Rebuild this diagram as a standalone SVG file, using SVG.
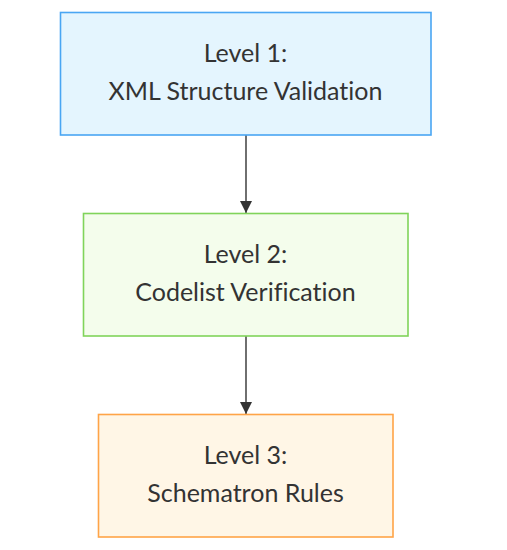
<svg xmlns="http://www.w3.org/2000/svg" width="507" height="550" viewBox="0 0 507 550">
<defs>
<marker id="arrow" viewBox="0 0 12 12" refX="12" refY="6" markerWidth="12" markerHeight="12" markerUnits="userSpaceOnUse" orient="auto">
<path d="M0,0 L12,6 L0,12 z" fill="#333333"/>
</marker>
<style>
.node rect{stroke-width:1.6}
.lbl{font-family:Lato,"Open Sans","Liberation Sans",sans-serif;font-size:25px;fill:#333333;text-anchor:middle;font-variant-ligatures:none;font-feature-settings:"liga" 0,"clig" 0}
.edge{stroke:#333333;stroke-width:1.4;fill:none}
</style>
</defs>
<rect width="507" height="550" fill="#ffffff"/>
<g id="connectors">
<path class="edge" d="M246,135 L246,213" marker-end="url(#arrow)"/>
<path class="edge" d="M246,336 L246,414" marker-end="url(#arrow)"/>
</g>
<g id="level1" class="node">
<rect x="60.5" y="12.5" width="370.5" height="122.5" fill="#e4f5fe" stroke="#49a6f3"/>
<text class="lbl" x="245.5" y="62">Level 1:</text>
<text class="lbl" x="245.5" y="100">XML Structure Validation</text>
</g>
<g id="level2" class="node">
<rect x="83.5" y="213.5" width="324.5" height="122.5" fill="#f4fdec" stroke="#80d45a"/>
<text class="lbl" x="245.5" y="263">Level 2:</text>
<text class="lbl" x="245.5" y="301">Codelist Verification</text>
</g>
<g id="level3" class="node">
<rect x="98.5" y="414.5" width="294.5" height="122.5" fill="#fff6e6" stroke="#ffa447"/>
<text class="lbl" x="245.5" y="464">Level 3:</text>
<text class="lbl" x="245.5" y="502">Schematron Rules</text>
</g>
</svg>
